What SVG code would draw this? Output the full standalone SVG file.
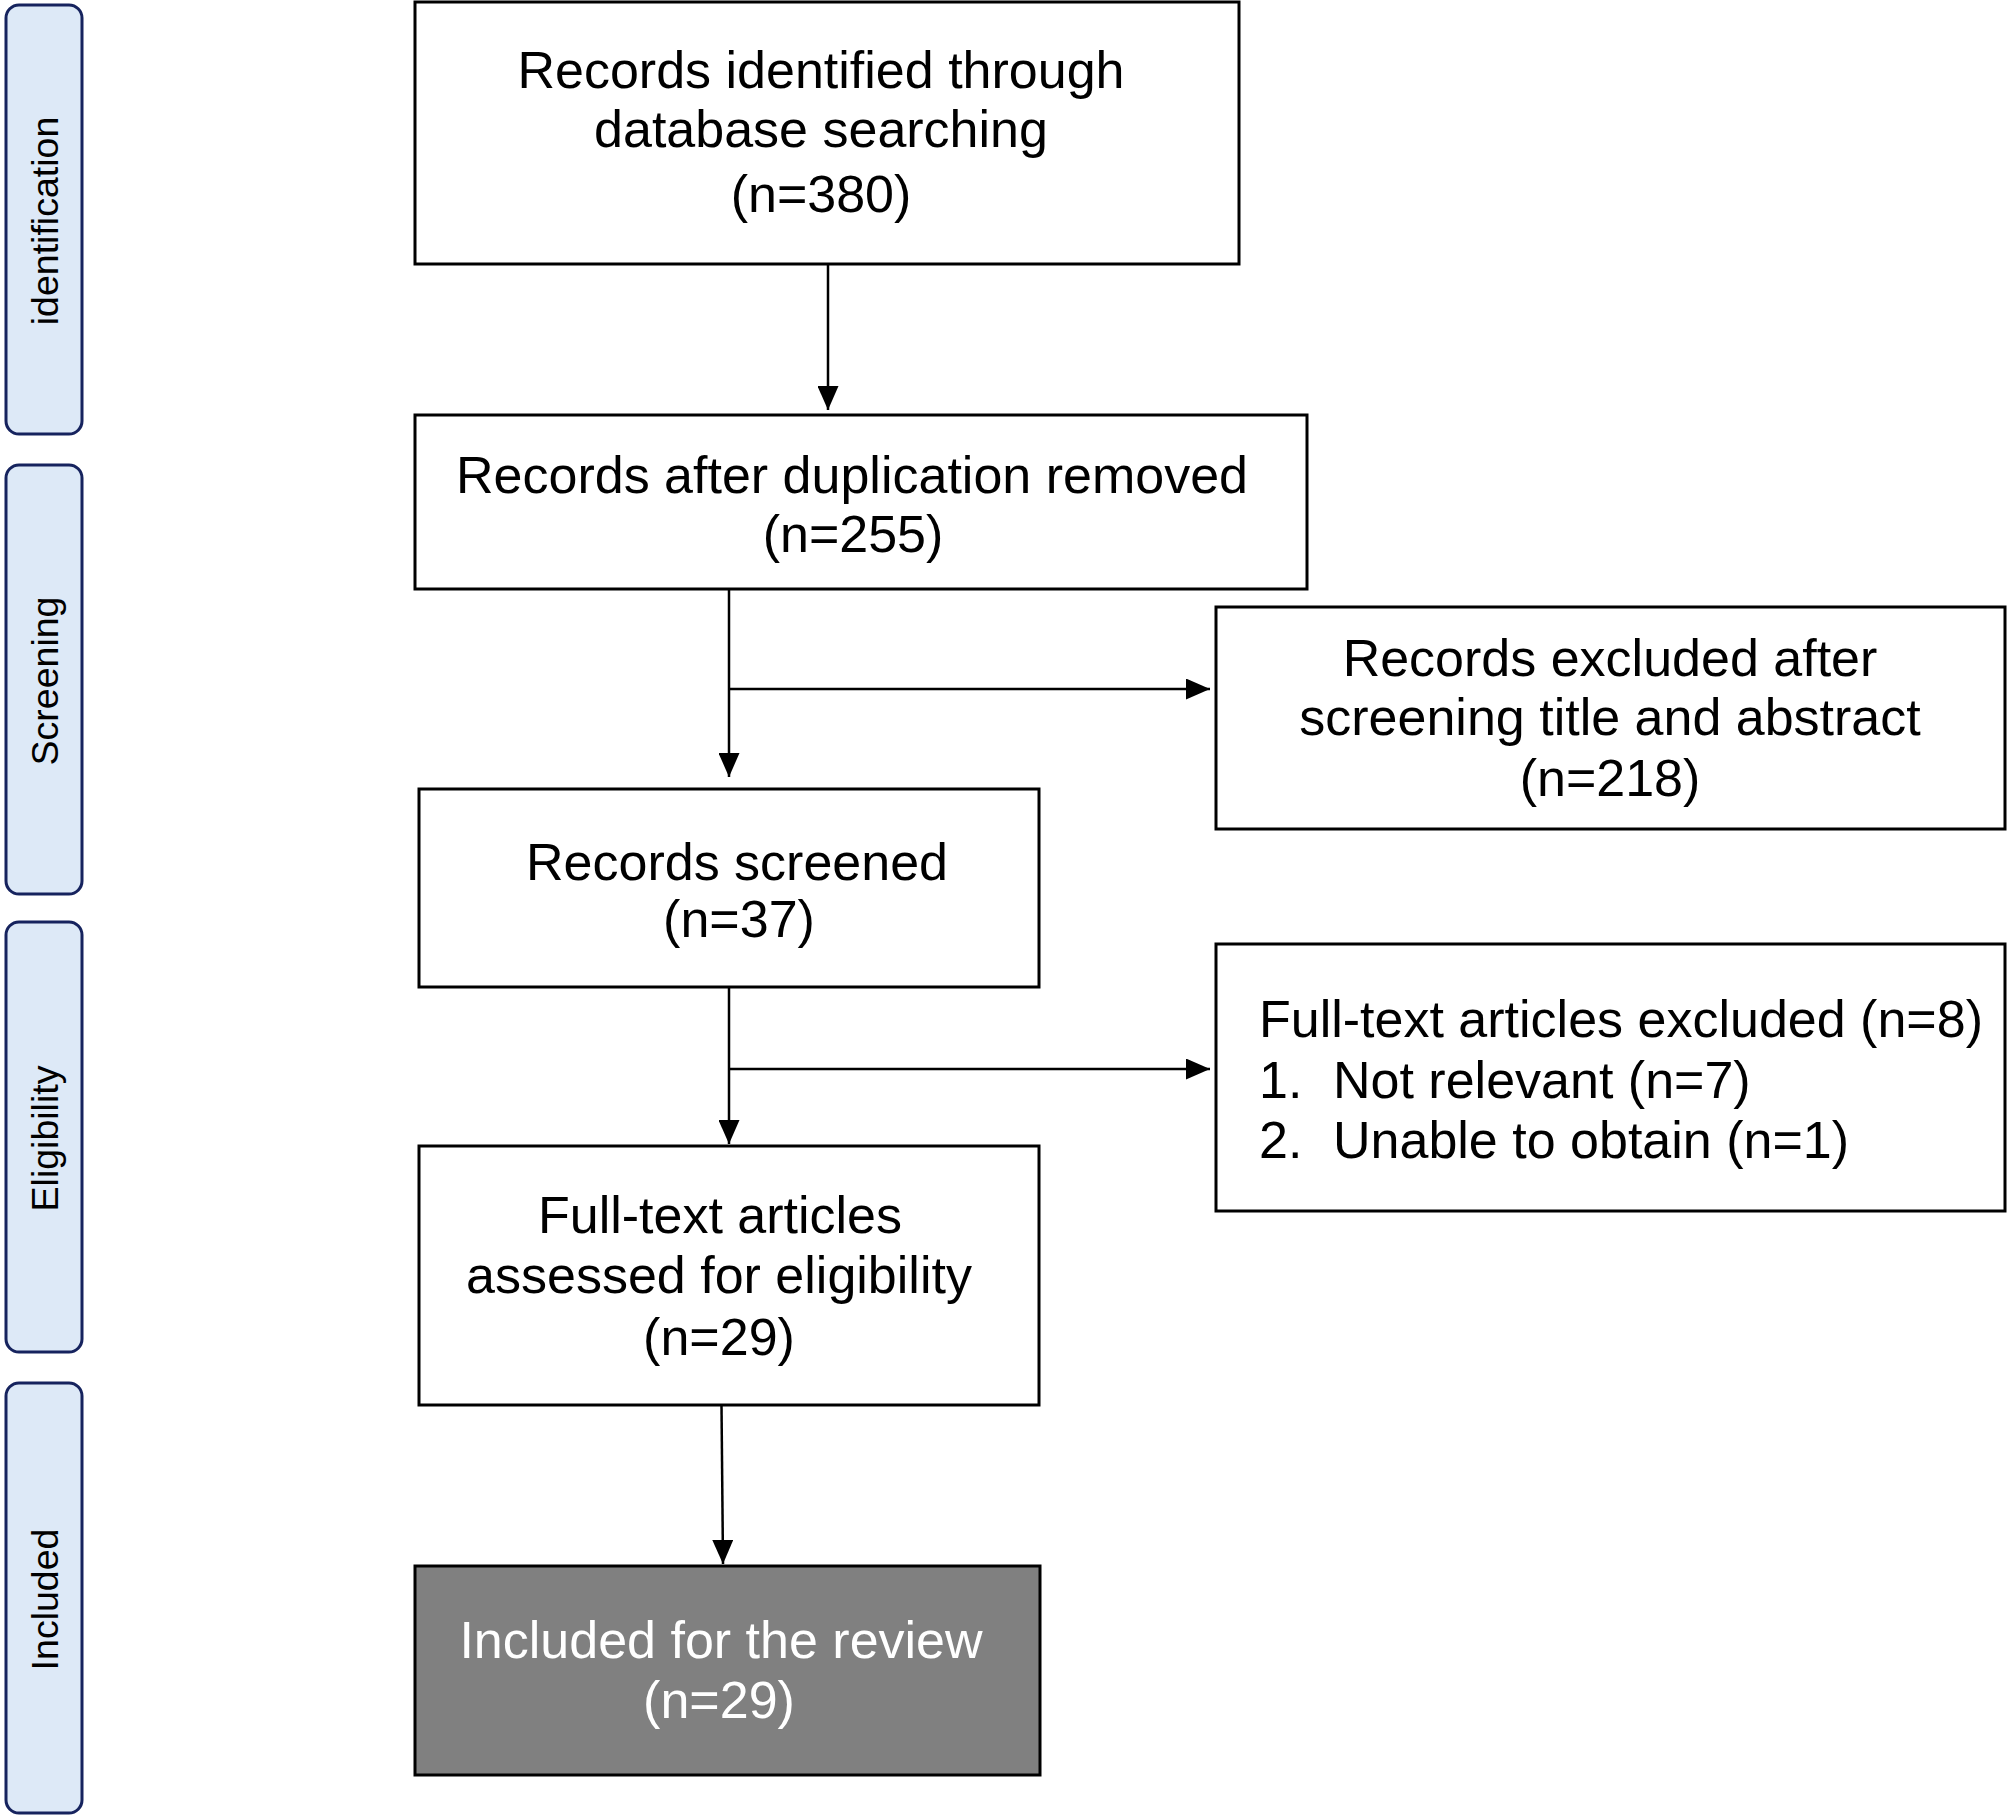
<svg xmlns="http://www.w3.org/2000/svg" width="2008" height="1817" viewBox="0 0 2008 1817">
<defs>
<style>
.side{fill:#dde9f7;stroke:#16235e;stroke-width:3}
.sidet{font-family:"Liberation Sans",Arial,sans-serif;font-size:37.5px;fill:#000;text-anchor:middle}
.box{fill:#fff;stroke:#000;stroke-width:3}
.boxg{fill:#808080;stroke:#000;stroke-width:3}
.t{font-family:"Liberation Sans",Arial,sans-serif;font-size:52px;fill:#000;text-anchor:middle}
.tl{font-family:"Liberation Sans",Arial,sans-serif;font-size:52px;fill:#000}
.tw{font-family:"Liberation Sans",Arial,sans-serif;font-size:52px;fill:#fff;text-anchor:middle}
.ln{stroke:#000;stroke-width:2.5;fill:none}
</style>
<marker id="ah" viewBox="0 0 24 21" refX="24" refY="10.5" markerWidth="24" markerHeight="21" markerUnits="userSpaceOnUse" orient="auto">
<path d="M0,0 L24,10.5 L0,21 Z" fill="#000"/>
</marker>
</defs>
<rect width="2008" height="1817" fill="#fff"/>

<g id="phase-identification">
<rect class="side" x="6" y="5" width="76" height="429" rx="13"/>
<text class="sidet" transform="translate(58,221) rotate(-90)">identification</text>
</g>
<g id="phase-screening">
<rect class="side" x="6" y="465" width="76" height="429" rx="13"/>
<text class="sidet" transform="translate(58,681) rotate(-90)">Screening</text>
</g>
<g id="phase-eligibility">
<rect class="side" x="6" y="922" width="76" height="430" rx="13"/>
<text class="sidet" transform="translate(58,1138.5) rotate(-90)">Eligibility</text>
</g>
<g id="phase-included">
<rect class="side" x="6" y="1383" width="76" height="430" rx="13"/>
<text class="sidet" transform="translate(58,1599.5) rotate(-90)">Included</text>
</g>

<g id="connectors">
<line class="ln" x1="828" y1="264" x2="828" y2="410" marker-end="url(#ah)"/>
<line class="ln" x1="729" y1="589" x2="729" y2="777" marker-end="url(#ah)"/>
<line class="ln" x1="729" y1="689" x2="1210" y2="689" marker-end="url(#ah)"/>
<line class="ln" x1="729" y1="987" x2="729" y2="1144" marker-end="url(#ah)"/>
<line class="ln" x1="729" y1="1069" x2="1210" y2="1069" marker-end="url(#ah)"/>
<line class="ln" x1="721.5" y1="1405" x2="723" y2="1564" marker-end="url(#ah)"/>
</g>

<g id="node-identified">
<rect class="box" x="415" y="2" width="824" height="262"/>
<text class="t" x="821" y="88">Records identified through</text>
<text class="t" x="821" y="147">database searching</text>
<text class="t" x="821" y="212">(n=380)</text>
</g>
<g id="node-dedup">
<rect class="box" x="415" y="415" width="892" height="174"/>
<text class="t" x="852" y="493">Records after duplication removed</text>
<text class="t" x="853" y="552">(n=255)</text>
</g>
<g id="node-excluded-screening">
<rect class="box" x="1216" y="607" width="789" height="222"/>
<text class="t" x="1610" y="676">Records excluded after</text>
<text class="t" x="1610" y="735">screening title and abstract</text>
<text class="t" x="1610" y="796">(n=218)</text>
</g>
<g id="node-screened">
<rect class="box" x="419" y="789" width="620" height="198"/>
<text class="t" x="737" y="880">Records screened</text>
<text class="t" x="739" y="937">(n=37)</text>
</g>
<g id="node-excluded-fulltext">
<rect class="box" x="1216" y="944" width="789" height="267"/>
<text class="tl" x="1259" y="1037">Full-text articles excluded (n=8)</text>
<text class="tl" y="1098"><tspan x="1259">1.</tspan><tspan x="1333">Not relevant (n=7)</tspan></text>
<text class="tl" y="1158"><tspan x="1259">2.</tspan><tspan x="1333">Unable to obtain (n=1)</tspan></text>
</g>
<g id="node-assessed">
<rect class="box" x="419" y="1146" width="620" height="259"/>
<text class="t" x="720" y="1233">Full-text articles</text>
<text class="t" x="719" y="1293">assessed for eligibility</text>
<text class="t" x="719" y="1355">(n=29)</text>
</g>
<g id="node-included">
<rect class="boxg" x="415" y="1566" width="625" height="209"/>
<text class="tw" x="721" y="1658">Included for the review</text>
<text class="tw" x="719" y="1718">(n=29)</text>
</g>
</svg>
